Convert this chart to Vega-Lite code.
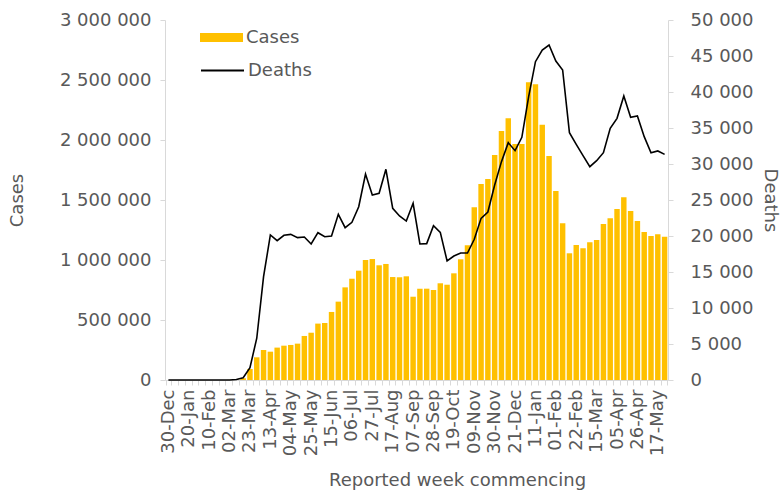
{
  "$schema": "https://vega.github.io/schema/vega-lite/v6.json",
  "width": 503,
  "height": 360,
  "autosize": {"type": "none"},
  "padding": {"left": 165, "top": 20, "right": 116, "bottom": 112},
  "background": "white",
  "config": {
    "view": {"stroke": null},
    "font": "DejaVu Sans",
    "axis": {"grid": false, "domainColor": "#d9d9d9", "tickColor": "#d9d9d9", "labelColor": "#595959", "titleColor": "#595959", "labelFontSize": 18, "titleFontSize": 18, "titleFontWeight": "normal", "labelFont": "DejaVu Sans", "titleFont": "DejaVu Sans"},
    "legend": {"labelColor": "#595959", "labelFontSize": 18, "labelFont": "DejaVu Sans"}
  },
  "data": {"values": [
    {"week": "30-Dec", "cases": 0, "deaths": 0},
    {"week": "06-Jan", "cases": 0, "deaths": 0},
    {"week": "13-Jan", "cases": 0, "deaths": 0},
    {"week": "20-Jan", "cases": 0, "deaths": 0},
    {"week": "27-Jan", "cases": 0, "deaths": 0},
    {"week": "03-Feb", "cases": 0, "deaths": 0},
    {"week": "10-Feb", "cases": 0, "deaths": 0},
    {"week": "17-Feb", "cases": 0, "deaths": 0},
    {"week": "24-Feb", "cases": 0, "deaths": 0},
    {"week": "02-Mar", "cases": 1000, "deaths": 10},
    {"week": "09-Mar", "cases": 3000, "deaths": 60},
    {"week": "16-Mar", "cases": 15000, "deaths": 320},
    {"week": "23-Mar", "cases": 92000, "deaths": 1700},
    {"week": "30-Mar", "cases": 189000, "deaths": 5800},
    {"week": "06-Apr", "cases": 250000, "deaths": 14350},
    {"week": "13-Apr", "cases": 236000, "deaths": 20140},
    {"week": "20-Apr", "cases": 270000, "deaths": 19350},
    {"week": "27-Apr", "cases": 286000, "deaths": 20100},
    {"week": "04-May", "cases": 292000, "deaths": 20230},
    {"week": "11-May", "cases": 303000, "deaths": 19770},
    {"week": "18-May", "cases": 367000, "deaths": 19860},
    {"week": "25-May", "cases": 394000, "deaths": 18890},
    {"week": "01-Jun", "cases": 470000, "deaths": 20460},
    {"week": "08-Jun", "cases": 475000, "deaths": 19900},
    {"week": "15-Jun", "cases": 567000, "deaths": 20000},
    {"week": "22-Jun", "cases": 653000, "deaths": 23010},
    {"week": "29-Jun", "cases": 772000, "deaths": 21160},
    {"week": "06-Jul", "cases": 844000, "deaths": 21900},
    {"week": "13-Jul", "cases": 911000, "deaths": 24070},
    {"week": "20-Jul", "cases": 1000000, "deaths": 28610},
    {"week": "27-Jul", "cases": 1008000, "deaths": 25700},
    {"week": "03-Aug", "cases": 956000, "deaths": 25930},
    {"week": "10-Aug", "cases": 967000, "deaths": 29260},
    {"week": "17-Aug", "cases": 858000, "deaths": 23840},
    {"week": "24-Aug", "cases": 856000, "deaths": 22780},
    {"week": "31-Aug", "cases": 864000, "deaths": 22080},
    {"week": "07-Sep", "cases": 694000, "deaths": 24540},
    {"week": "14-Sep", "cases": 761000, "deaths": 18890},
    {"week": "21-Sep", "cases": 761000, "deaths": 18940},
    {"week": "28-Sep", "cases": 750000, "deaths": 21440},
    {"week": "05-Oct", "cases": 806000, "deaths": 20510},
    {"week": "12-Oct", "cases": 794000, "deaths": 16530},
    {"week": "19-Oct", "cases": 889000, "deaths": 17220},
    {"week": "26-Oct", "cases": 1006000, "deaths": 17640},
    {"week": "02-Nov", "cases": 1122000, "deaths": 17640},
    {"week": "09-Nov", "cases": 1439000, "deaths": 19540},
    {"week": "16-Nov", "cases": 1633000, "deaths": 22450},
    {"week": "23-Nov", "cases": 1675000, "deaths": 23330},
    {"week": "30-Nov", "cases": 1875000, "deaths": 27080},
    {"week": "07-Dec", "cases": 2075000, "deaths": 30330},
    {"week": "14-Dec", "cases": 2181000, "deaths": 32960},
    {"week": "21-Dec", "cases": 1967000, "deaths": 31850},
    {"week": "28-Dec", "cases": 1967000, "deaths": 33700},
    {"week": "04-Jan", "cases": 2481000, "deaths": 39350},
    {"week": "11-Jan", "cases": 2464000, "deaths": 44210},
    {"week": "18-Jan", "cases": 2128000, "deaths": 45830},
    {"week": "25-Jan", "cases": 1867000, "deaths": 46530},
    {"week": "01-Feb", "cases": 1575000, "deaths": 44300},
    {"week": "08-Feb", "cases": 1306000, "deaths": 43060},
    {"week": "15-Feb", "cases": 1056000, "deaths": 34350},
    {"week": "22-Feb", "cases": 1125000, "deaths": 32730},
    {"week": "01-Mar", "cases": 1097000, "deaths": 31160},
    {"week": "08-Mar", "cases": 1147000, "deaths": 29630},
    {"week": "15-Mar", "cases": 1167000, "deaths": 30460},
    {"week": "22-Mar", "cases": 1300000, "deaths": 31570},
    {"week": "29-Mar", "cases": 1347000, "deaths": 34950},
    {"week": "05-Apr", "cases": 1425000, "deaths": 36340},
    {"week": "12-Apr", "cases": 1522000, "deaths": 39440},
    {"week": "19-Apr", "cases": 1408000, "deaths": 36480},
    {"week": "26-Apr", "cases": 1325000, "deaths": 36670},
    {"week": "03-May", "cases": 1233000, "deaths": 33800},
    {"week": "10-May", "cases": 1200000, "deaths": 31570},
    {"week": "17-May", "cases": 1214000, "deaths": 31810},
    {"week": "24-May", "cases": 1194000, "deaths": 31340}
  ]},
  "encoding": {
    "x": {
      "field": "week", "type": "ordinal", "sort": null,
      "scale": {"paddingInner": 0.2, "paddingOuter": 0.1},
      "title": "Reported week commencing",
      "axis": {
        "labelAngle": -90, "tickBand": "extent", "tickSize": 5, "labelPadding": 4, "titlePadding": 16, "titleX": 292,
        "labelExpr": "indexof(['30-Dec','20-Jan','10-Feb','02-Mar','23-Mar','13-Apr','04-May','25-May','15-Jun','06-Jul','27-Jul','17-Aug','07-Sep','28-Sep','19-Oct','09-Nov','30-Nov','21-Dec','11-Jan','01-Feb','22-Feb','15-Mar','05-Apr','26-Apr','17-May'], datum.value) >= 0 ? datum.value : ''"
      }
    }
  },
  "layer": [
    {
      "mark": {"type": "bar"},
      "encoding": {
        "y": {
          "field": "cases", "type": "quantitative", "title": "Cases",
          "scale": {"domain": [0, 3000000], "nice": false},
          "axis": {"orient": "left", "values": [0, 500000, 1000000, 1500000, 2000000, 2500000, 3000000], "tickSize": 5, "labelPadding": 9, "titlePadding": 33,
                   "labelExpr": "replace(format(datum.value, ','), /,/g, ' ')"}
        },
        "fill": {
          "datum": "Cases", "type": "nominal",
          "scale": {"domain": ["Cases"], "range": ["#FFC000"]},
          "legend": {"title": null, "orient": "none", "legendX": 35, "legendY": -4, "padding": 0, "symbolType": "M-1,-0.21H1V0.21H-1Z", "symbolSize": 1849, "symbolStrokeWidth": 0, "labelOffset": 3}
        }
      }
    },
    {
      "mark": {"type": "line", "color": "black", "strokeWidth": 1.6},
      "encoding": {
        "y": {
          "field": "deaths", "type": "quantitative", "title": "Deaths",
          "scale": {"domain": [0, 50000], "nice": false},
          "axis": {"orient": "right", "values": [0, 5000, 10000, 15000, 20000, 25000, 30000, 35000, 40000, 45000, 50000], "tickSize": 5, "labelPadding": 17, "titlePadding": 8,
                   "labelExpr": "replace(format(datum.value, ','), /,/g, ' ')"}
        },
        "stroke": {
          "datum": "Deaths", "type": "nominal",
          "scale": {"domain": ["Deaths"], "range": ["black"]},
          "legend": {"title": null, "orient": "none", "legendX": 35, "legendY": 28, "padding": 0, "symbolType": "M-1,0H1", "symbolSize": 1849, "symbolStrokeWidth": 2, "labelOffset": 3}
        }
      }
    }
  ],
  "resolve": {"scale": {"y": "independent", "fill": "independent", "stroke": "independent"}, "legend": {"fill": "independent", "stroke": "independent"}}
}
